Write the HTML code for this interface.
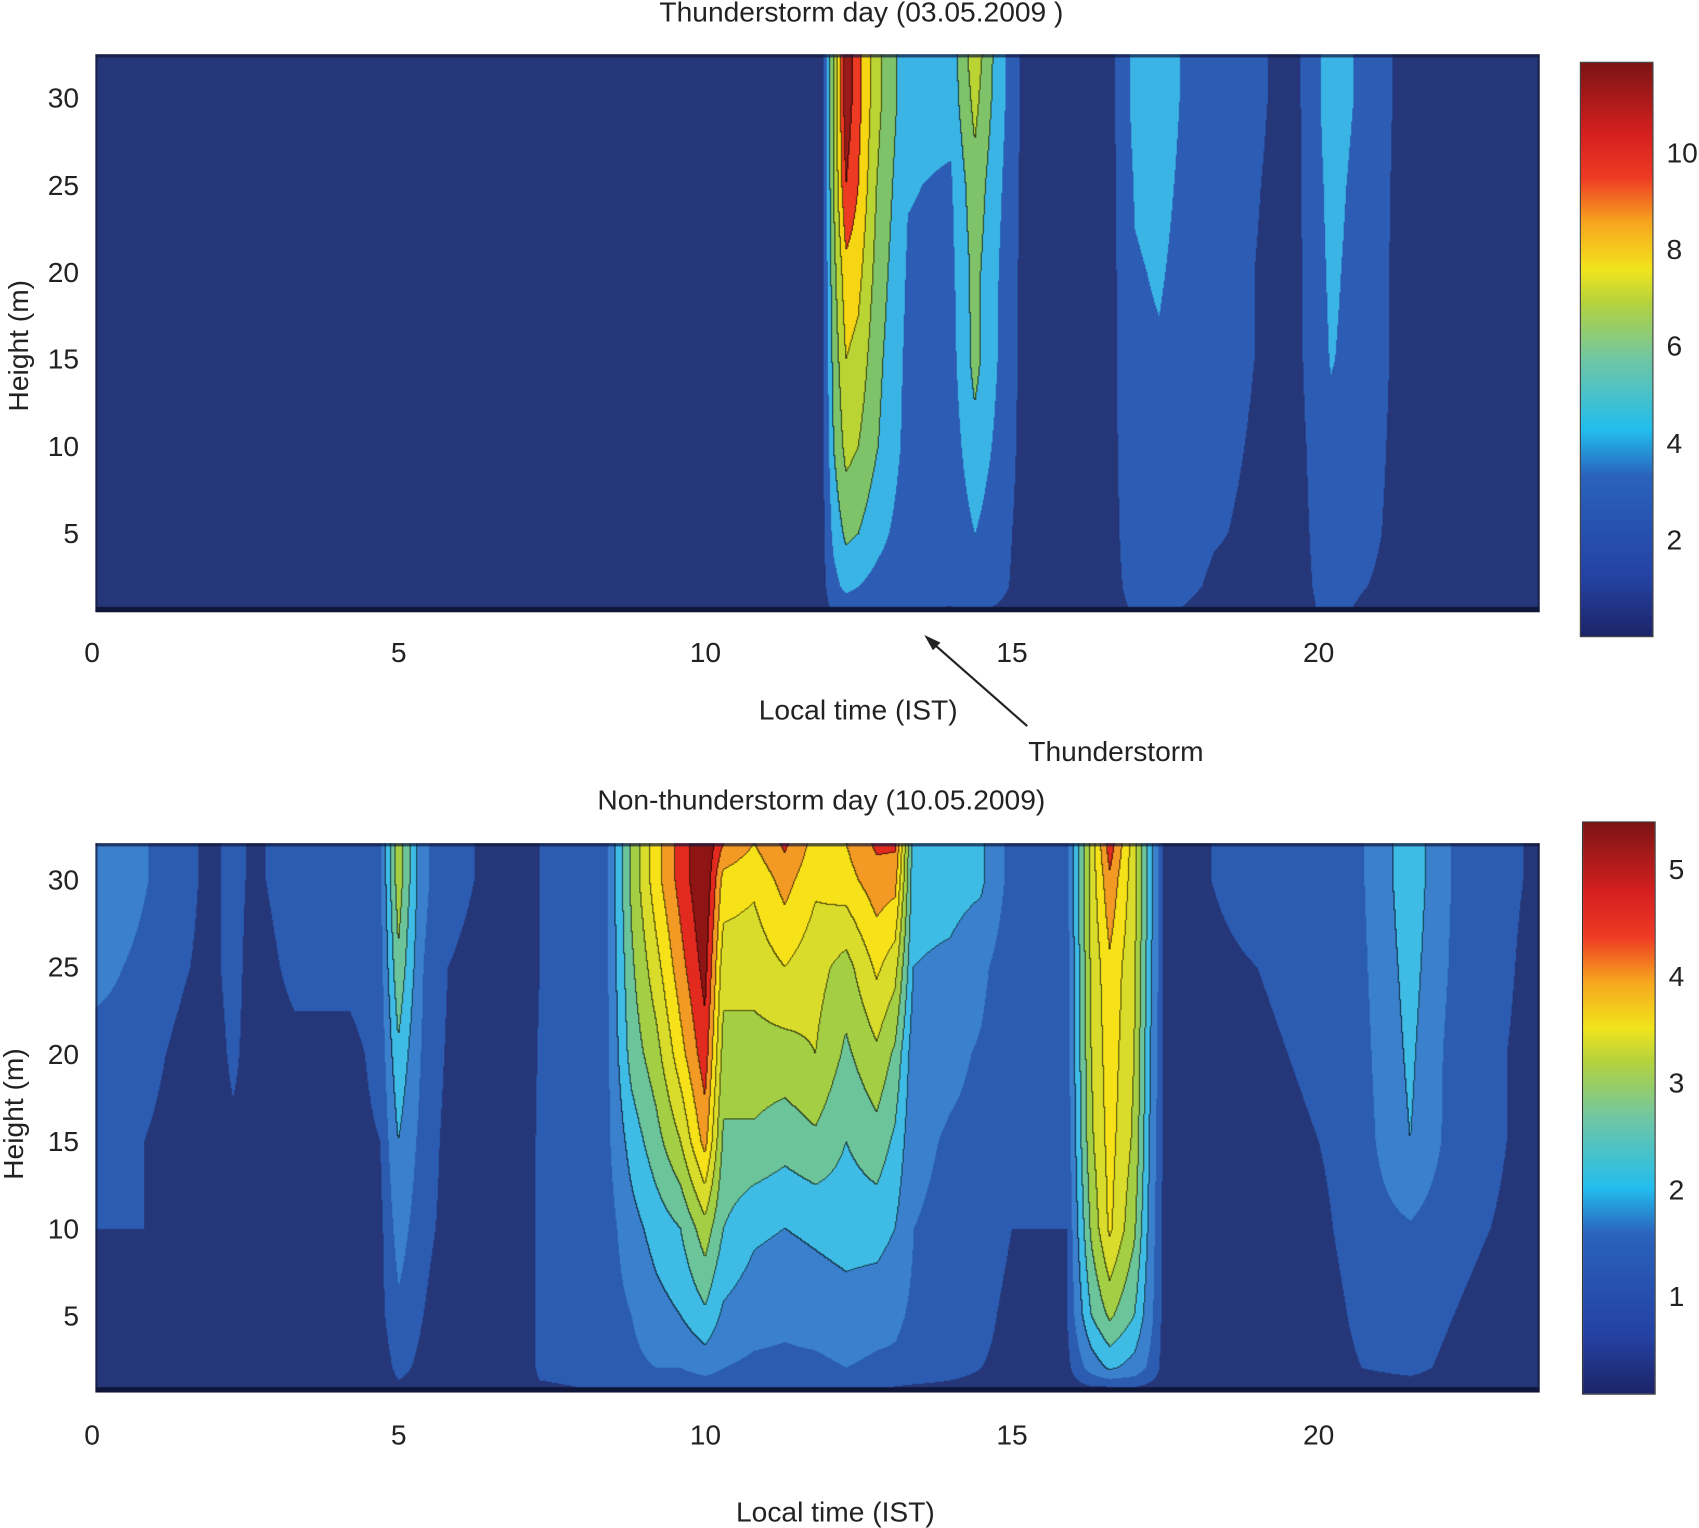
<!DOCTYPE html>
<html><head><meta charset="utf-8">
<style>
html,body{margin:0;padding:0;background:#fff;overflow:hidden}
#wrap{position:absolute;left:0;top:0;width:1568px;height:1410px;transform-origin:0 0;transform:scale(1.08355,1.08369);font-family:"Liberation Sans",sans-serif;color:#222}
.t{position:absolute;font-size:26px;white-space:nowrap;line-height:1}
.c{width:600px;text-align:center}
canvas{position:absolute}
.cb{position:absolute;border:1px solid #333;background:linear-gradient(to top,#1c2468 0%,#2441a2 10%,#2a63bb 28%,#22bdee 36%,#6ec6a6 48%,#b3d23e 58%,#f1e41c 64%,#f7a71e 72%,#ee3a24 80%,#d41f1f 88%,#7c1414 100%)}
</style></head><body>
<div id="wrap">
<div class="t c" style="left:495px;top:-2px">Thunderstorm day (03.05.2009 )</div>
<canvas id="c1" width="1333" height="515" style="left:88px;top:50px"></canvas>
<div class="cb" style="left:1458px;top:57px;width:66px;height:529px"></div>
<div class="t c" style="left:-283px;top:306px;transform:rotate(-90deg)">Height (m)</div>
<div class="t c" style="left:492px;top:642px">Local time (IST)</div>
<svg style="position:absolute;left:0;top:0" width="1568" height="1410">
<line x1="948" y1="670" x2="857" y2="590" stroke="#222" stroke-width="2"/>
<polygon points="853,586 868,593 861,600" fill="#222"/>
</svg>
<div class="t" style="left:949px;top:680px">Thunderstorm</div>
<div class="t c" style="left:458px;top:725px">Non-thunderstorm day (10.05.2009)</div>
<canvas id="c2" width="1333" height="507" style="left:88px;top:778px"></canvas>
<div class="cb" style="left:1460px;top:758px;width:66px;height:527px"></div>
<div class="t c" style="left:-288px;top:1015px;transform:rotate(-90deg)">Height (m)</div>
<div class="t c" style="left:471px;top:1382px">Local time (IST)</div>
</div>
<script>
// ---- top plot data ----
const topTimes=[0,11.9,12.1,12.3,12.5,12.8,13.3,14.0,14.4,14.8,15.2,16.6,17.0,17.4,17.8,18.3,19.6,20.2,20.8,21.4,23.6];
const topHeights=[0.5,2,5,10,15,20,25,30,32.5];
const topValues=[
[1,1,1,1,1,1,1,1,1],
[1,1,1,1,1,1,1,1,1],
[1.6,2.5,3.5,4.5,5,5.5,6,6,6],
[1.6,3.5,4.8,6.5,7.5,8.5,10.5,11.5,11.5],
[1.6,3,4.5,6,7,8,9,9.5,9.5],
[1.6,2.5,3.5,4.6,5,5.5,6,6.5,6.5],
[1.5,2,2.2,2.5,2.6,2.8,3.1,3.5,3.5],
[1.4,1.8,2,2.2,2.4,2.6,2.8,3.5,3.5],
[1.5,2.5,3,4,5,5,5.5,6.5,7],
[1.3,1.8,2,2.5,2.8,2.9,3.2,3.6,3.6],
[1,1,1,1,1,1,1,1,1],
[1,1,1,1,1,1,1,1,1],
[1.6,2,2.3,2.6,2.8,2.9,3.1,3.5,3.5],
[1.6,2,2.3,2.6,2.9,3.1,3.3,3.5,3.5],
[1.4,1.8,2,2.2,2.5,2.7,2.8,2.9,2.9],
[1,1.3,1.6,1.8,2,2,2.2,2.5,2.5],
[1,1,1,1,1,1,1,1,1],
[1.8,2,2.2,2.5,3.1,3.3,3.5,3.8,3.8],
[1.2,1.5,1.8,2,2.2,2.2,2.3,2.5,2.5],
[1,1,1,1,1,1,1,1,1],
[1,1,1,1,1,1,1,1,1]];
const topLevels=[1.5,3,4.5,6,7.5,9,10.5];
const topColors=["#253779","#2c5cb4","#3ab4e4","#7ec36a","#b9d433","#f6d512","#ec3b22","#9a1a1a"];
// ---- bottom plot data ----
const botTimes=[0,0.5,1.2,2.0,2.3,2.6,3.3,4.2,4.7,5.0,5.4,5.8,7.1,7.3,8.4,8.8,9.2,9.6,10.0,10.3,10.8,11.3,11.8,12.3,12.8,13.1,13.4,14.0,14.5,15.0,15.9,16.3,16.6,17.0,17.3,17.5,19.0,20.0,20.7,21.5,22.2,22.8,23.6];
const botHeights=[0.6,2,5,10,15,20,25,30,32.1];
const botValues=[
[0.4,0.5,0.5,0.6,0.8,0.9,1.1,1.5,1.5],
[0.4,0.5,0.5,0.6,0.7,0.9,1.0,1.3,1.3],
[0.4,0.5,0.5,0.6,0.5,0.6,0.7,0.8,0.8],
[0.4,0.4,0.4,0.4,0.4,0.4,0.5,0.5,0.5],
[0.4,0.4,0.4,0.4,0.5,0.7,0.8,0.8,0.8],
[0.4,0.4,0.4,0.4,0.4,0.4,0.4,0.5,0.5],
[0.4,0.4,0.4,0.4,0.4,0.5,0.7,0.8,0.8],
[0.4,0.4,0.4,0.4,0.5,0.5,0.7,0.8,0.8],
[0.4,0.4,0.5,0.5,0.6,0.7,0.8,0.9,0.9],
[0.5,0.7,0.9,1.2,1.5,1.9,2.4,2.8,2.8],
[0.4,0.5,0.6,0.7,0.8,0.9,1.0,1.1,1.1],
[0.4,0.4,0.4,0.5,0.5,0.55,0.6,0.7,0.7],
[0.4,0.4,0.4,0.4,0.4,0.4,0.4,0.4,0.4],
[0.5,0.7,0.7,0.7,0.7,0.65,0.6,0.6,0.6],
[0.6,0.8,0.8,0.8,0.9,0.9,0.95,0.95,0.95],
[0.6,0.9,1.0,1.3,1.7,2.2,2.4,2.6,2.6],
[0.6,1.0,1.3,1.7,2.3,2.8,3.3,3.8,3.8],
[0.6,1.0,1.5,2.0,3.0,3.8,4.3,4.7,4.7],
[0.6,1.2,1.9,2.8,4.2,4.8,5.2,5.5,5.5],
[0.6,1.0,1.4,2.0,2.4,2.8,3.2,3.8,4.5],
[0.6,0.9,1.2,1.6,2.4,2.8,3.2,3.6,4.0],
[0.6,0.9,1.1,1.5,2.2,2.8,3.5,4.2,4.6],
[0.6,0.9,1.2,1.6,2.4,3.0,3.2,3.6,3.8],
[0.6,1.0,1.3,1.7,2.0,2.4,2.8,3.8,4.0],
[0.6,0.9,1.2,1.7,2.3,2.9,3.6,4.3,4.6],
[0.5,0.9,1.1,1.5,1.9,2.4,3.2,4.2,4.6],
[0.5,0.8,0.9,1.0,1.1,1.2,1.5,1.7,1.7],
[0.5,0.7,0.8,0.9,0.95,1.1,1.4,1.7,1.7],
[0.5,0.6,0.7,0.8,0.9,0.95,1.1,1.6,1.6],
[0.4,0.5,0.5,0.6,0.6,0.7,0.7,0.8,0.8],
[0.4,0.5,0.6,0.6,0.7,0.8,0.8,0.9,0.9],
[0.4,1.2,2.0,2.6,2.9,3.0,3.1,3.2,3.2],
[0.3,1.6,2.6,3.6,3.7,3.8,3.9,4.4,4.8],
[0.4,1.3,2.0,2.6,2.9,3.0,3.1,3.2,3.2],
[0.4,0.8,1.0,1.1,1.2,1.3,1.4,1.5,1.5],
[0.4,0.4,0.4,0.4,0.4,0.4,0.4,0.4,0.4],
[0.4,0.4,0.4,0.4,0.4,0.5,0.6,0.8,0.8],
[0.4,0.4,0.4,0.5,0.6,0.7,0.8,0.9,0.9],
[0.4,0.6,0.7,0.8,0.8,0.85,0.9,0.95,0.95],
[0.4,0.7,0.8,0.95,1.5,1.6,1.7,1.8,1.8],
[0.4,0.5,0.6,0.7,0.8,0.8,0.9,0.95,0.95],
[0.4,0.4,0.5,0.6,0.7,0.7,0.8,0.8,0.8],
[0.4,0.4,0.4,0.4,0.4,0.4,0.4,0.5,0.5]];
const botLevels=[0.6,1.0,1.5,2.0,2.5,3.0,3.5,4.0,4.5,5.0];
const botColors=["#253779","#2b5cb2","#3a80cc","#3fbce6","#6cc59a","#a4cf45","#d9dc2a","#f7e118","#f39a24","#e32a1f","#8f1515"];
const xTicks=[0,5,10,15,20];
const topYTicks=[5,10,15,20,25,30];
const botYTicks=[5,10,15,20,25,30];
const topCbTicks=[2,4,6,8,10];
const botCbTicks=[1,2,3,4,5];

// axis functions (display coords)
const xScale=t=>85+t*56.6;
const yTop=h=>573-h*16.08;
const yBot=h=>1294.4-h*16.08;
const cbTop=v=>587-v*44.6;
const cbBot=v=>1294.5-v*98.5;

function hexRGB(h){return [parseInt(h.substr(1,2),16),parseInt(h.substr(3,2),16),parseInt(h.substr(5,2),16)];}
function seg(arr,v){let i=0;while(i<arr.length-2&&v>arr[i+1])i++;let f=(v-arr[i])/(arr[i+1]-arr[i]);return [i,Math.max(0,Math.min(1,f))];}
function band(levels,v){let b=0;while(b<levels.length&&v>=levels[b])b++;return b;}
function drawField(id,left,top,times,heights,vals,levels,colors,yfn){
  const c=document.getElementById(id),ctx=c.getContext('2d');
  const W=c.width,H=c.height,img=ctx.createImageData(W,H);
  const cols=colors.map(hexRGB);
  const B=new Int8Array(W*H);
  for(let py=0;py<H;py++){
    const h=(yfn(0)-(top+py+0.5))/16.08;
    const [j,fy]=seg(heights,h);
    for(let px=0;px<W;px++){
      const t=(left+px+0.5-85)/56.6;
      const [i,fx]=seg(times,t);
      const v=(1-fx)*((1-fy)*vals[i][j]+fy*vals[i][j+1])+fx*((1-fy)*vals[i+1][j]+fy*vals[i+1][j+1]);
      B[py*W+px]=band(levels,v);
    }
  }
  for(let py=0;py<H;py++)for(let px=0;px<W;px++){
    const b=B[py*W+px];const col=cols[b];
    const r=px<W-1?B[py*W+px+1]:b,d=py<H-1?B[(py+1)*W+px]:b;
    const edge=(r!==b&&Math.max(r,b)>=3)||(d!==b&&Math.max(d,b)>=3);
    const k=(py*W+px)*4,m=edge?0.35:1;
    img.data[k]=col[0]*m;img.data[k+1]=col[1]*m;img.data[k+2]=col[2]*m;img.data[k+3]=255;
  }
  ctx.putImageData(img,0,0);
  ctx.fillStyle='#10163a';ctx.fillRect(0,H-5,W,5);
  ctx.fillStyle='rgba(20,25,60,0.7)';ctx.fillRect(0,0,W,3);ctx.fillRect(0,0,2,H);ctx.fillRect(W-2,0,2,H);
}
drawField('c1',88,50,topTimes,topHeights,topValues,topLevels,topColors,yTop);
drawField('c2',88,778,botTimes,botHeights,botValues,botLevels,botColors,yBot);

const wrap=document.getElementById('wrap');
function label(txt,x,y,align,name){
  const d=document.createElement('div');d.className='t';d.textContent=txt;
  
  
  d.style.top=(y-13)+'px';
  if(align==='c'){d.style.left=(x-30)+'px';d.style.width='60px';d.style.textAlign='center';}
  else if(align==='r'){d.style.left=(x-60)+'px';d.style.width='60px';d.style.textAlign='right';}
  else d.style.left=x+'px';
  wrap.appendChild(d);
}
xTicks.forEach(t=>{label(String(t),xScale(t),602,'c','top-x-tick-label');label(String(t),xScale(t),1324,'c','bottom-x-tick-label');});
topYTicks.forEach(h=>label(String(h),73,yTop(h)-0.5,'r','top-y-tick-label'));
botYTicks.forEach(h=>label(String(h),73,yBot(h),'r','bottom-y-tick-label'));
topCbTicks.forEach(v=>label(String(v),1538,cbTop(v),'l','top-colorbar-tick-label'));
botCbTicks.forEach(v=>label(String(v),1540,cbBot(v),'l','bottom-colorbar-tick-label'));
</script>
</body></html>
